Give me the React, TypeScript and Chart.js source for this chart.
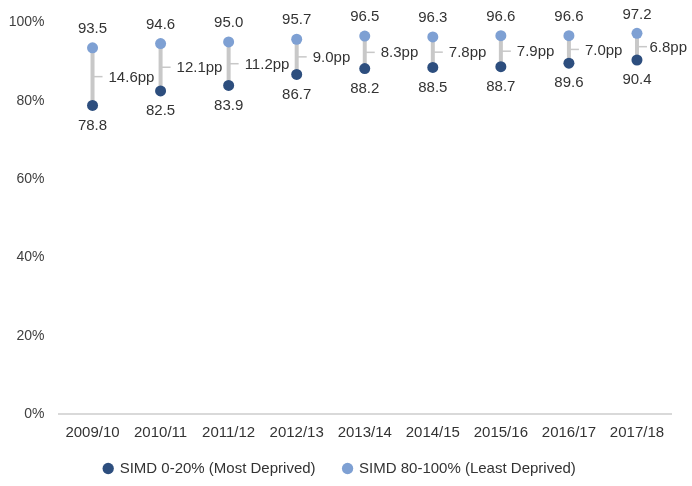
import { useEffect, useRef } from "react";
import { Chart, registerables, type Plugin } from "chart.js";

Chart.register(...registerables);

const years = [
  "2009/10",
  "2010/11",
  "2011/12",
  "2012/13",
  "2013/14",
  "2014/15",
  "2015/16",
  "2016/17",
  "2017/18",
];
const mostDeprived = [78.8, 82.5, 83.9, 86.7, 88.2, 88.5, 88.7, 89.6, 90.4];
const leastDeprived = [93.5, 94.6, 95.0, 95.7, 96.5, 96.3, 96.6, 96.6, 97.2];
const gapPp = [14.6, 12.1, 11.2, 9.0, 8.3, 7.8, 7.9, 7.0, 6.8];
const yTicks = [0, 20, 40, 60, 80, 100];

const DARK = "#2D4E7E";
const LIGHT = "#7EA0D3";
const FONT = "'Liberation Sans', Arial, sans-serif";
const TEXT = "#333333";

// connectors, gap labels and value labels
const dumbbellPlugin: Plugin<"line"> = {
  id: "dumbbell",
  beforeDatasetsDraw(chart) {
    const { ctx, scales } = chart;
    const x = scales.x;
    const y = scales.y;
    ctx.save();
    years.forEach((_, i) => {
      const px = x.getPixelForValue(i);
      const yHi = y.getPixelForValue(leastDeprived[i]);
      const yLo = y.getPixelForValue(mostDeprived[i]);
      const mid = (yHi + yLo) / 2;
      ctx.strokeStyle = "#C8C8C8";
      ctx.lineWidth = 4;
      ctx.beginPath();
      ctx.moveTo(px, yHi);
      ctx.lineTo(px, yLo);
      ctx.stroke();
      ctx.lineWidth = 1.5;
      ctx.beginPath();
      ctx.moveTo(px, mid);
      ctx.lineTo(px + 10, mid);
      ctx.stroke();
    });
    ctx.restore();
  },
  afterDatasetsDraw(chart) {
    const { ctx, scales } = chart;
    const x = scales.x;
    const y = scales.y;
    ctx.save();
    ctx.font = `15px ${FONT}`;
    ctx.fillStyle = TEXT;
    ctx.textBaseline = "middle";
    years.forEach((_, i) => {
      const px = x.getPixelForValue(i);
      const yHi = y.getPixelForValue(leastDeprived[i]);
      const yLo = y.getPixelForValue(mostDeprived[i]);
      ctx.textAlign = "center";
      ctx.fillText(leastDeprived[i].toFixed(1), px, yHi - 19);
      ctx.fillText(mostDeprived[i].toFixed(1), px, yLo + 20);
      ctx.textAlign = "left";
      const gapText = `${gapPp[i].toFixed(1)}pp`;
      // keep the last label inside the canvas
      const tx = Math.min(px + 16, chart.width - 5 - ctx.measureText(gapText).width);
      ctx.fillText(gapText, tx, (yHi + yLo) / 2 + 1);
    });
    ctx.restore();
  },
};

function DumbbellChart() {
  const ref = useRef<HTMLCanvasElement | null>(null);
  const chartRef = useRef<Chart | null>(null);

  useEffect(() => {
    if (!ref.current) return;
    chartRef.current?.destroy();
    chartRef.current = new Chart(ref.current, {
      type: "line",
      data: {
        labels: years,
        datasets: [
          {
            label: "SIMD 0-20% (Most Deprived)",
            data: mostDeprived,
            showLine: false,
            pointRadius: 5.5,
            pointBorderWidth: 0,
            pointBackgroundColor: DARK,
            backgroundColor: DARK,
            borderColor: DARK,
          },
          {
            label: "SIMD 80-100% (Least Deprived)",
            data: leastDeprived,
            showLine: false,
            pointRadius: 5.5,
            pointBorderWidth: 0,
            pointBackgroundColor: LIGHT,
            backgroundColor: LIGHT,
            borderColor: LIGHT,
          },
        ],
      },
      plugins: [dumbbellPlugin],
      options: {
        responsive: false,
        animation: false,
        events: [],
        layout: { padding: { top: 22, left: 9, right: 21, bottom: 0 } },
        plugins: {
          tooltip: { enabled: false },
          legend: {
            position: "bottom",
            labels: {
              usePointStyle: true,
              pointStyle: "circle",
              boxWidth: 8,
              boxHeight: 8,
              padding: 28,
              color: TEXT,
              font: { size: 15, family: FONT },
            },
          },
        },
        scales: {
          x: {
            offset: true,
            grid: { display: false, drawTicks: false },
            border: { display: true, color: "#D9D9D9", width: 2 },
            ticks: {
              padding: 10,
              color: TEXT,
              font: { size: 15, family: FONT },
              maxRotation: 0,
            },
            // squeeze the axis box so labels sit close to the legend,
            // and stop the labels being clipped to that smaller box
            afterFit: (s: any) => {
              s.height = 19;
              s._computeLabelArea = () => undefined;
            },
          },
          y: {
            min: 0,
            max: 100,
            grid: { display: false, drawTicks: false },
            border: { display: false },
            afterBuildTicks: (s) => {
              s.ticks = yTicks.map((v) => ({ value: v }));
            },
            afterFit: (s) => {
              s.width = 49.5;
            },
            ticks: {
              padding: 14,
              color: "#404040",
              font: { size: 14, family: FONT },
              callback: (v) => `${v}%`,
            },
          },
        },
      },
    });
    return () => {
      chartRef.current?.destroy();
      chartRef.current = null;
    };
  }, []);

  return (
    <canvas
      ref={ref}
      width={692}
      height={486}
      style={{ display: "block", width: 692, height: 486 }}
      aria-label="Dumbbell chart of SIMD most and least deprived by year"
    />
  );
}

export default function App() {
  useEffect(() => {
    document.body.style.margin = "0";
  }, []);
  return (
    <div style={{ width: 692, height: 486, background: "#fff" }}>
      <DumbbellChart />
    </div>
  );
}
